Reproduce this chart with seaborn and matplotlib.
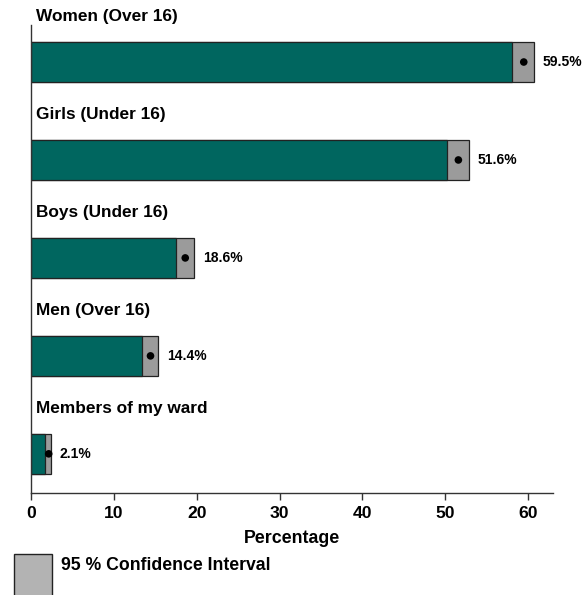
import matplotlib
matplotlib.use("Agg")
import matplotlib.pyplot as plt
import seaborn as sns
import pandas as pd
from matplotlib.patches import Rectangle

categories = ["Women (Over 16)", "Girls (Under 16)", "Boys (Under 16)", "Men (Over 16)", "Members of my ward"]
estimate = [59.5, 51.6, 18.6, 14.4, 2.1]
ci_lower = [58.1, 50.2, 17.5, 13.4, 1.65]
ci_upper = [60.75, 52.85, 19.7, 15.35, 2.4]
value_labels = ["59.5%", "51.6%", "18.6%", "14.4%", "2.1%"]
xticks = [0, 10, 20, 30, 40, 50, 60]

sns.set_style("white")
plt.rcParams['font.family'] = ['Liberation Sans', 'DejaVu Sans']
plt.rcParams['font.weight'] = 'bold'
plt.rcParams['text.color'] = 'black'
plt.rcParams['axes.labelcolor'] = 'black'
plt.rcParams['xtick.color'] = 'black'

df = pd.DataFrame({"cat": categories, "est": estimate, "lo": ci_lower, "hi": ci_upper})

fig = plt.figure(figsize=(5.82, 5.95), dpi=100)
ax = fig.add_axes([0.0538, 0.1714, 0.8959, 0.7866])

teal = "#00665f"
grey = "#9b9b9b"

sns.barplot(data=df, x="hi", y="cat", orient="h", color=grey, saturation=1,
            width=0.41, edgecolor="#222222", linewidth=0.9, ax=ax)
sns.barplot(data=df, x="lo", y="cat", orient="h", color=teal, saturation=1,
            width=0.41, edgecolor="#222222", linewidth=0.9, ax=ax)
sns.scatterplot(data=df, x="est", y="cat", color="black", s=30, ax=ax, zorder=5,
                edgecolor="none")

for i, (hi, lab, cat) in enumerate(zip(ci_upper, value_labels, categories)):
    ax.text(hi + 1.05, i, lab, ha="left", va="center", fontsize=10,
            fontweight="bold", color="black")
    ax.text(0.55, i - 0.415, cat, ha="left", va="baseline", fontsize=12.4,
            fontweight="bold", color="black", clip_on=False)

ax.set_xlim(0, 63)
ax.set_ylim(4.4, -0.378)
ax.set_xticks(xticks)
ax.set_xticklabels([str(t) for t in xticks], fontsize=12.6, fontweight="bold")
ax.set_yticks([])
ax.set_ylabel("")
ax.set_xlabel("Percentage", fontsize=12.8, fontweight="bold", labelpad=6.5,
              color="black")
ax.tick_params(axis="x", direction="out", length=5, width=1, color="#333333", pad=4,
               bottom=True, labelcolor="black")
for s in ["top", "right"]:
    ax.spines[s].set_visible(False)
for s in ["left", "bottom"]:
    ax.spines[s].set_color("#333333")
    ax.spines[s].set_linewidth(1.0)

# legend
fig.patches.append(Rectangle((14 / 582, 1 - 600 / 595), 38 / 582, 46 / 595,
                             transform=fig.transFigure, facecolor="#b3b3b3",
                             edgecolor="#222222", linewidth=1.0))
fig.text(61 / 582, 1 - 566 / 595, "95 % Confidence Interval", fontsize=12.7,
         fontweight="bold", ha="left", va="center", color="black")

fig.savefig("out.png", dpi=100)
